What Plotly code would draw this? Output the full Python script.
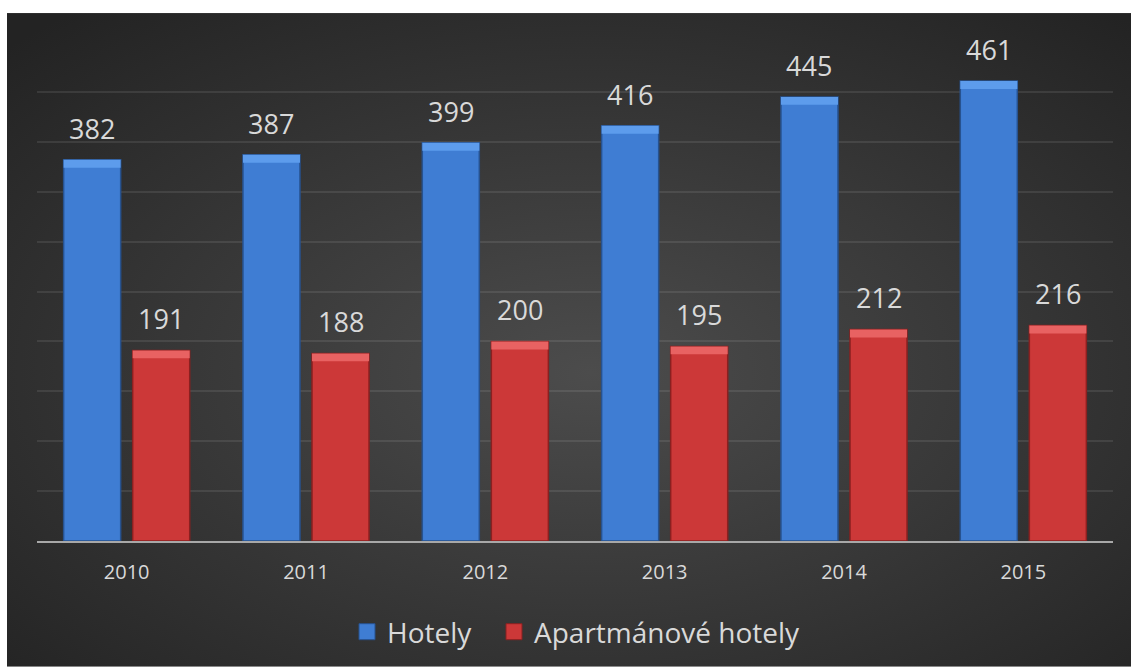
import base64
import plotly.graph_objects as go

# ---- data ----
years = ["2010", "2011", "2012", "2013", "2014", "2015"]
hotely = [382, 387, 399, 416, 445, 461]
apartmanove = [191, 188, 200, 195, 212, 216]
series_names = ["Hotely", "Apartmánové hotely"]

# ---- styles ----
FONT = "Open Sans"
TXT = "#d9d9d9"
BLUE, BLUE_EDGE, BLUE_TOP = "#3f7dd3", "#27528f", "#5d9cec"
RED, RED_EDGE, RED_TOP = "#cc3838", "#8a2020", "#e86262"
BEVEL = 8

W, H = 1131, 668
L, R, T, B = 37, 18, 42, 126
plot_w, plot_h = W - L - R, H - T - B

svg = (
    '<svg xmlns="http://www.w3.org/2000/svg" width="1124" height="655" preserveAspectRatio="none">'
    '<defs><radialGradient id="g" cx="52%" cy="55%" r="72%">'
    '<stop offset="0%" stop-color="#4c4c4c"/><stop offset="100%" stop-color="#232323"/>'
    '</radialGradient></defs><rect width="1124" height="655" fill="url(#g)"/></svg>'
)
bg_src = "data:image/svg+xml;base64," + base64.b64encode(svg.encode()).decode()

fig = go.Figure()

for name, vals, col, edge, top, grp, lg in [
    (series_names[0], hotely, BLUE, BLUE_EDGE, BLUE_TOP, "a", "legend"),
    (series_names[1], apartmanove, RED, RED_EDGE, RED_TOP, "b", "legend2"),
]:
    fig.add_trace(go.Bar(
        x=years, y=vals, name=name, offsetgroup=grp, showlegend=False,
        marker=dict(color=col, line=dict(color=edge, width=1.5)),
        hoverinfo="y",
    ))
    fig.add_trace(go.Bar(
        x=years, y=[BEVEL] * len(vals), base=[v - BEVEL for v in vals],
        offsetgroup=grp, showlegend=False, hoverinfo="skip",
        marker=dict(color=top, line=dict(color=edge, width=0)),
    ))
    fig.add_trace(go.Scatter(
        x=[years[0]], y=[None], mode="markers", name=name, legend=lg,
        marker=dict(symbol="square", size=20, color=col, line=dict(color=edge, width=1)),
    ))

# value labels
slot_px = plot_w / len(years)
off_px = slot_px * (1 - 0.23) / 4
for vals, sh in [(hotely, -off_px), (apartmanove, off_px)]:
    for i, v in enumerate(vals):
        fig.add_annotation(
            x=i, y=v, xref="x", yref="y", text=str(v), showarrow=False,
            yanchor="bottom", xanchor="center", xshift=sh, yshift=11,
            font=dict(family=FONT, size=27, color=TXT),
        )

fig.add_layout_image(dict(
    source=bg_src, xref="paper", yref="paper",
    x=(7 - L) / plot_w, y=(H - B - 13) / plot_h,
    sizex=(W - 7) / plot_w, sizey=(H - 13) / plot_h,
    xanchor="left", yanchor="top", sizing="stretch", layer="below",
))

leg_common = dict(
    orientation="h", xanchor="left", y=-0.18, yanchor="middle",
    font=dict(family=FONT, size=28, color=TXT), bgcolor="rgba(0,0,0,0)",
    itemsizing="trace",
)

fig.update_layout(
    width=W, height=H,
    margin=dict(l=L, r=R, t=T, b=B, pad=0),
    paper_bgcolor="white", plot_bgcolor="rgba(0,0,0,0)",
    barmode="group", bargap=0.23, bargroupgap=0.174,
    font=dict(family=FONT, color=TXT),
    showlegend=True,
    legend=dict(x=(347 - L) / plot_w, **leg_common),
    legend2=dict(x=(494 - L) / plot_w, **leg_common),
    xaxis=dict(
        type="category", categoryorder="array", categoryarray=years,
        range=[-0.5, len(years) - 0.5],
        showline=True, linecolor="#a8a8a8", linewidth=2, showgrid=False,
        tickfont=dict(family=FONT, size=20, color=TXT), ticks="",
        ticklabelstandoff=12, fixedrange=True,
    ),
    yaxis=dict(
        range=[0, 500], dtick=50, showticklabels=False, zeroline=False,
        showgrid=True, gridcolor="rgba(255,255,255,0.09)", gridwidth=1.5,
        fixedrange=True,
    ),
)

fig.write_html(
    "out.html",
    config={"displayModeBar": False},
    post_script="document.body.style.margin='0';document.body.style.overflow='hidden';",
)
